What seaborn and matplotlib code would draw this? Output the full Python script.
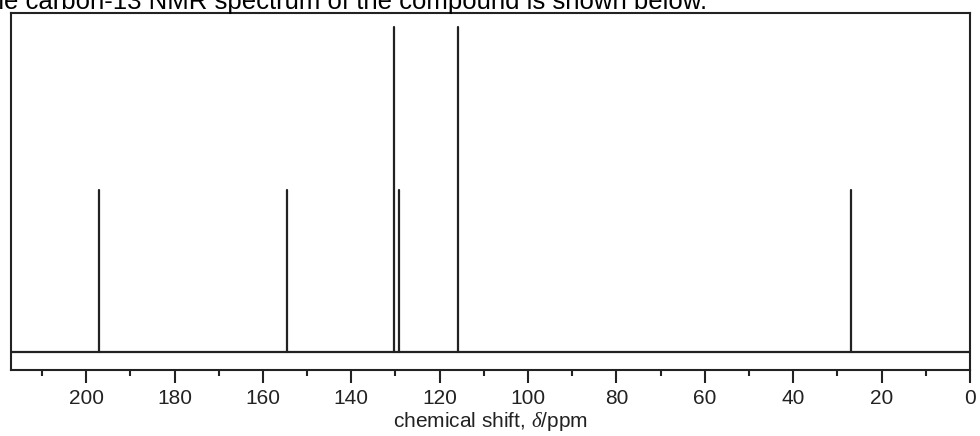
import matplotlib
matplotlib.use("Agg")
import matplotlib.pyplot as plt
import seaborn as sns
import pandas as pd
from matplotlib.ticker import MultipleLocator

# Data: 13C NMR peaks
shifts = [197.0, 154.5, 130.4, 129.2, 115.9, 26.9]
heights = [0.5, 0.5, 1.0, 0.5, 1.0, 0.5]
major_ticks = [0, 20, 40, 60, 80, 100, 120, 140, 160, 180, 200]
title_text = "The carbon-13 NMR spectrum of the compound is shown below."
xlabel_text = r"chemical shift, $\delta$/ppm"

sns.set_style("ticks")
plt.rcParams['font.family'] = ['Liberation Sans', 'DejaVu Sans']
plt.rcParams['mathtext.fontset'] = 'custom'
plt.rcParams['mathtext.it'] = 'Liberation Serif:italic'

ink = "#222222"

rows = []
for i, (s, h) in enumerate(zip(shifts, heights)):
    rows.append({"peak": i, "shift": s, "intensity": 0.0})
    rows.append({"peak": i, "shift": s, "intensity": h})
df = pd.DataFrame(rows)

fig = plt.figure(figsize=(9.8, 4.36), dpi=100)
ax = fig.add_axes([11/980, 1 - 370/436, (970 - 11)/980, (370 - 13)/436])

sns.lineplot(data=df, x="shift", y="intensity", units="peak", estimator=None,
             color=ink, linewidth=1.6, ax=ax, sort=False, legend=False)
ax.axhline(0, color=ink, linewidth=1.6, zorder=1)

ax.set_xlim(217, 0)
ax.set_ylim(-0.055, 1.043)
ax.set_yticks([])
ax.xaxis.set_minor_locator(MultipleLocator(10))
ax.set_xticks(major_ticks)
ax.set_xticklabels([str(t) for t in major_ticks])
ax.tick_params(axis="x", which="major", length=9, width=1.5, color=ink,
               labelsize=15, labelcolor=ink, pad=5)
ax.tick_params(axis="x", which="minor", length=4.5, width=1.5, color=ink)
for sp in ax.spines.values():
    sp.set_visible(True)
    sp.set_color(ink)
    sp.set_linewidth(1.5)
ax.set_xlabel(xlabel_text, fontsize=15, color=ink, labelpad=1)
ax.set_ylabel("")

fig.text(707/980, 1 - 8.5/436, title_text, ha="right", va="baseline",
         fontsize=18.5, color="black")

fig.savefig("out.png", dpi=100)
